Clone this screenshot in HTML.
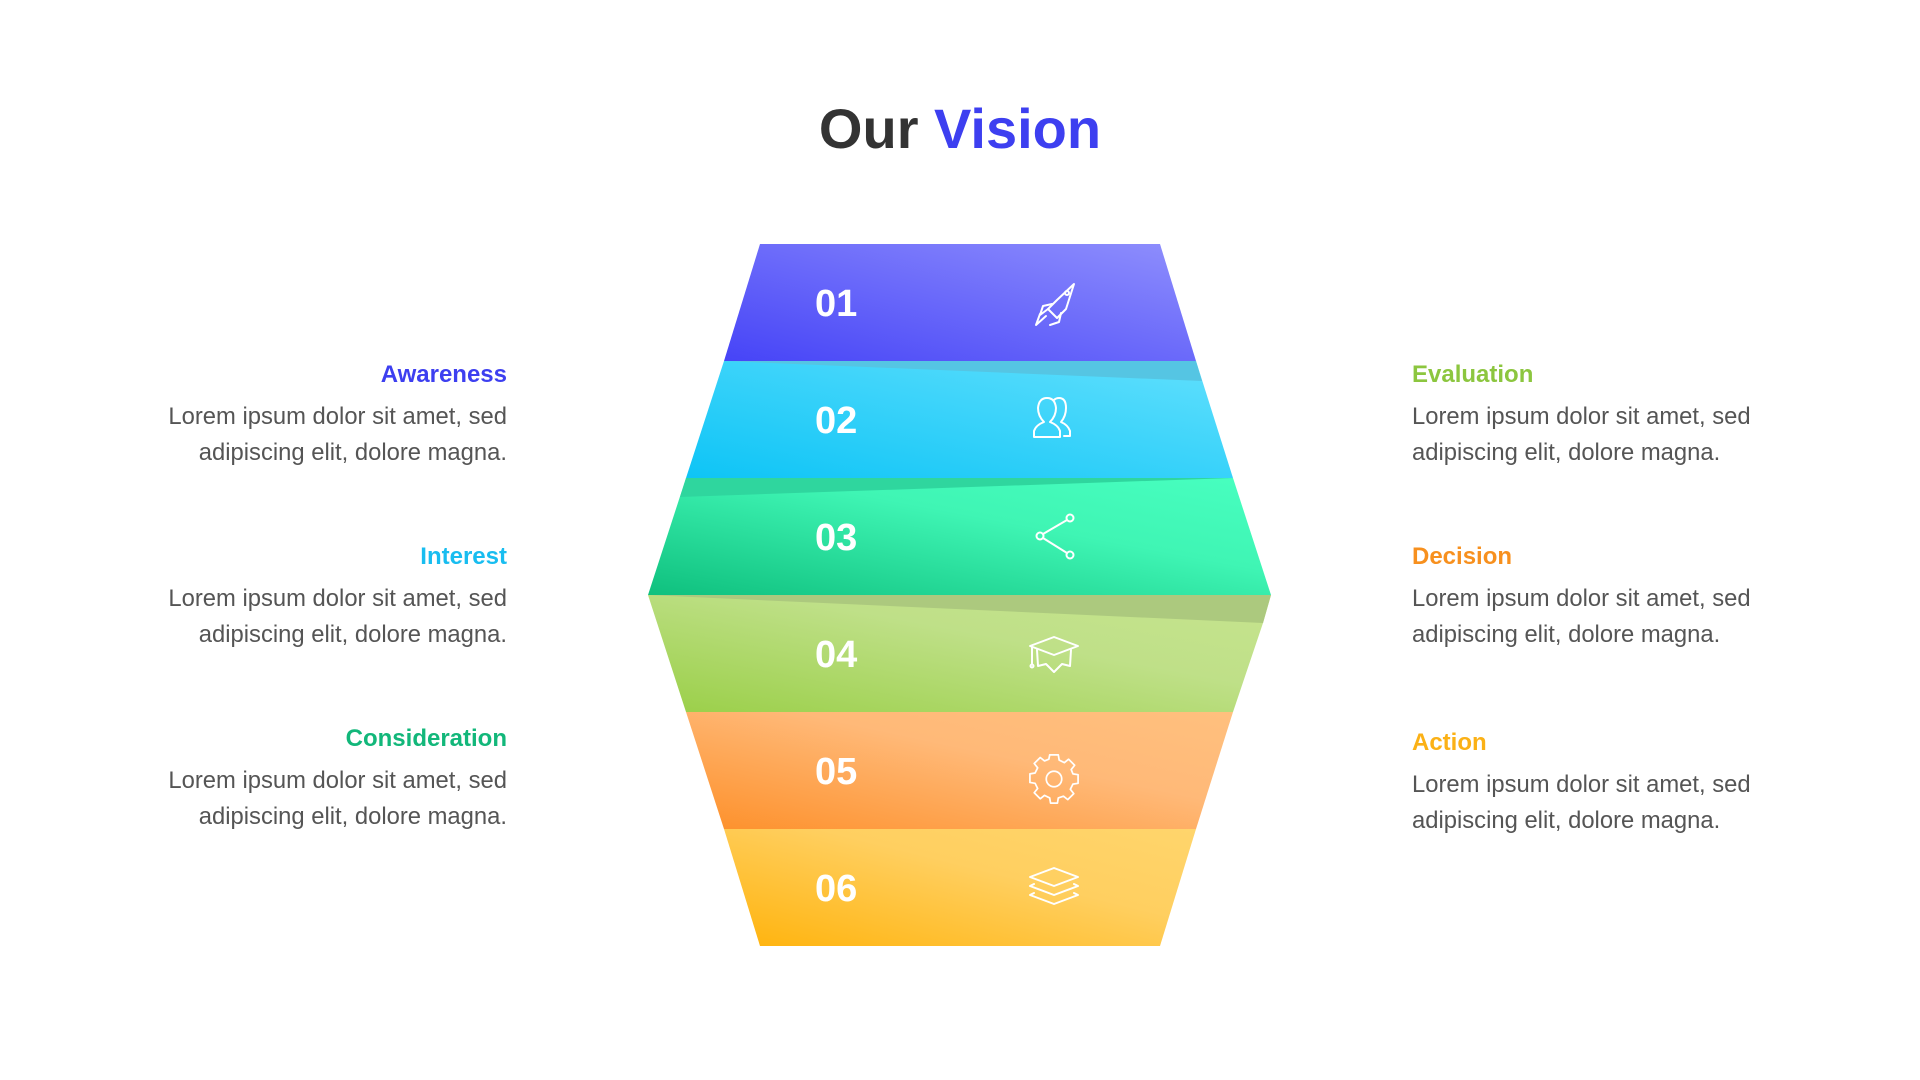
<!DOCTYPE html>
<html><head><meta charset="utf-8"><style>
html,body{margin:0;padding:0;background:#fff;width:1920px;height:1080px;overflow:hidden}
svg{display:block}
</style></head><body>
<svg width="1920" height="1080" viewBox="0 0 1920 1080" xmlns="http://www.w3.org/2000/svg" font-family="'Liberation Sans', sans-serif">
<defs>
<linearGradient id="g1" x1="0" y1="1" x2="1" y2="0"><stop offset="0" stop-color="#4644f7"/><stop offset="1" stop-color="#8f8ffd"/></linearGradient>
<linearGradient id="g2" x1="0" y1="1" x2="1" y2="0"><stop offset="0" stop-color="#0ec4f6"/><stop offset="1" stop-color="#62e0fd"/></linearGradient>
<linearGradient id="g3" x1="0" y1="1" x2="1" y2="0"><stop offset="0" stop-color="#0fc07e"/><stop offset="0.6" stop-color="#3ff5b4"/><stop offset="1" stop-color="#48ffc0"/></linearGradient>
<linearGradient id="g4" x1="0" y1="1" x2="1" y2="0"><stop offset="0" stop-color="#9acf48"/><stop offset="0.6" stop-color="#bfe088"/><stop offset="1" stop-color="#c6e48e"/></linearGradient>
<linearGradient id="g5" x1="0" y1="1" x2="1" y2="0"><stop offset="0" stop-color="#fd902a"/><stop offset="0.6" stop-color="#ffb978"/><stop offset="1" stop-color="#ffc07e"/></linearGradient>
<linearGradient id="g6" x1="0" y1="1" x2="1" y2="0"><stop offset="0" stop-color="#ffb30c"/><stop offset="0.6" stop-color="#ffcf60"/><stop offset="1" stop-color="#ffd56c"/></linearGradient>
</defs>

<text x="960" y="148" text-anchor="middle" font-size="56" font-weight="bold" fill="#333"><tspan>Our </tspan><tspan fill="#3d3ff0">Vision</tspan></text>

<polygon points="760,244 1160,244 1196,361 724,361" fill="url(#g1)"/>
<polygon points="724,361 1196,361 1233,478 686,478" fill="url(#g2)"/>
<polygon points="724,361 1196,361 1202,381" fill="#55c5e3"/>
<polygon points="686,478 1233,478 1271,595 648,595" fill="url(#g3)"/>
<polygon points="686,478 1233,478 680,497 " fill="#2fd69e"/>
<polygon points="648,595 1271,595 1263,623 1233,712 686,712" fill="url(#g4)"/>
<polygon points="648,595 1271,595 1263,623" fill="#acc97e"/>
<polygon points="686,712 1233,712 1196,829 724,829" fill="url(#g5)"/>
<polygon points="724,829 1196,829 1160,946 760,946" fill="url(#g6)"/>

<g font-size="38" font-weight="bold" fill="#fff">
<text x="815" y="316">01</text>
<text x="815" y="433">02</text>
<text x="815" y="550">03</text>
<text x="815" y="667">04</text>
<text x="815" y="784">05</text>
<text x="815" y="901">06</text>
</g>

<g fill="none" stroke="#fff" stroke-width="2" stroke-linejoin="round" stroke-linecap="round">
<path d="M1074,284 L1066,309 L1057,318 L1048,309 L1057,300 Z"/>
<path d="M1052,304 L1043,306 L1040,315 L1048,309"/>
<path d="M1061,313 L1059,322 L1050,325"/>
<path d="M1046,316 L1036,325 L1040,314"/>
<circle cx="1067" cy="293" r="2"/>
<path d="M1034,437 L1034,431 Q1036,425 1044,422 Q1038,416 1038,408 Q1039,398 1047,398 Q1055,398 1056,408 Q1056,416 1050,422 Q1058,425 1060,431 L1060,437 Z"/>
<path d="M1054,400 Q1056,398 1059,398 Q1066,398 1066,408 Q1066,416 1061,422 Q1068,425 1070,431 L1070,436 L1064,436"/>
<circle cx="1070" cy="518" r="3.5"/><circle cx="1040" cy="536" r="3.5"/><circle cx="1070" cy="555" r="3.5"/>
<path d="M1043,534 L1067,520 M1043,538 L1067,553"/>
<path d="M1030,646 L1054,637 L1078,646 L1054,655 Z"/>
<path d="M1037,650 L1038,666 L1046,664 L1054,672 L1062,664 L1070,666 L1071,650"/>
<path d="M1032,647 L1032,664"/><circle cx="1032" cy="666" r="1.5"/>
<g transform="translate(1054,779) scale(0.86) translate(-1054,-779)">
<circle cx="1054" cy="779" r="9"/>
<path d="M1049,751 L1059,751 L1060,757 L1066,760 L1071,756 L1078,763 L1074,768 L1076,773 L1082,774 L1082,784 L1076,785 L1073,791 L1077,796 L1070,803 L1065,799 L1059,801 L1058,807 L1050,807 L1049,801 L1043,798 L1038,802 L1031,795 L1035,790 L1032,784 L1026,783 L1026,773 L1032,772 L1035,766 L1031,761 L1038,754 L1043,758 L1048,756 Z"/>
</g>
<path d="M1030,877 L1054,868 L1078,877 L1054,886 Z"/>
<path d="M1034,884 L1030,886 L1054,895 L1078,886 L1074,884"/>
<path d="M1034,893 L1030,895 L1054,904 L1078,895 L1074,893"/>
</g>

<g font-size="24" font-weight="bold" text-anchor="end">
<text x="507" y="382" fill="#3d3ff0">Awareness</text>
<text x="507" y="564" fill="#18bdf0">Interest</text>
<text x="507" y="746" fill="#12b77a">Consideration</text>
</g>
<g font-size="23.8" fill="#555" text-anchor="end">
<text x="507" y="424">Lorem ipsum dolor sit amet, sed</text>
<text x="507" y="460">adipiscing elit, dolore magna.</text>
<text x="507" y="606">Lorem ipsum dolor sit amet, sed</text>
<text x="507" y="642">adipiscing elit, dolore magna.</text>
<text x="507" y="788">Lorem ipsum dolor sit amet, sed</text>
<text x="507" y="824">adipiscing elit, dolore magna.</text>
</g>
<g font-size="24" font-weight="bold">
<text x="1412" y="382" fill="#8cc63f">Evaluation</text>
<text x="1412" y="564" fill="#f7901e">Decision</text>
<text x="1412" y="750" fill="#fbb116">Action</text>
</g>
<g font-size="23.8" fill="#555">
<text x="1412" y="424">Lorem ipsum dolor sit amet, sed</text>
<text x="1412" y="460">adipiscing elit, dolore magna.</text>
<text x="1412" y="606">Lorem ipsum dolor sit amet, sed</text>
<text x="1412" y="642">adipiscing elit, dolore magna.</text>
<text x="1412" y="792">Lorem ipsum dolor sit amet, sed</text>
<text x="1412" y="828">adipiscing elit, dolore magna.</text>
</g>
</svg>
</body></html>
